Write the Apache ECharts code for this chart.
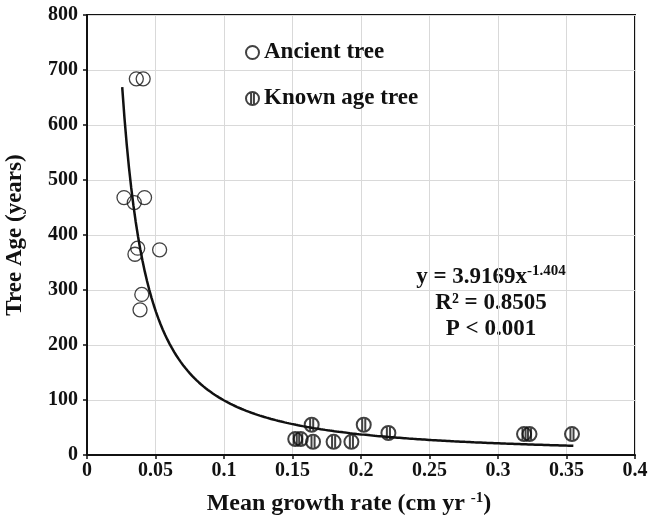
<!DOCTYPE html>
<html>
<head>
<meta charset="utf-8">
<script src="https://cdn.jsdelivr.net/npm/echarts@6/dist/echarts.min.js"></script>
<style>
html, body { margin: 0; padding: 0; background: #fff; }
#container { width: 648px; height: 516px; }
</style>
</head>
<body>
<div id="container"></div>
<script>
// ancient trees (open circles)
var ancientRate = [0.036, 0.041, 0.027, 0.0345, 0.042, 0.037, 0.035, 0.053, 0.040, 0.0387];
var ancientAge = [684, 684, 468, 459, 468, 376, 365, 373, 292, 264];
// known age trees
var knownRate = [0.152, 0.156, 0.164, 0.165, 0.180, 0.193, 0.202, 0.220, 0.319, 0.323, 0.354];
var knownAge = [29, 29, 55, 24, 24, 24, 55, 40, 38, 38, 38];
// power fit shown on the chart: y = 3.9169 x^-1.404
var fitA = 3.9169;
var fitB = -1.404;
var fitRange = [0.0257, 0.355];

var FONT = "'Liberation Serif', 'Times New Roman', serif";
var knownSymbol = 'path://M0,-10A10,10,0,1,1,0,10A10,10,0,1,1,0,-10ZM-2.2,-9.75L-2.2,9.75M2.2,-9.75L2.2,9.75';

var zip = (xs, ys) => xs.map((x, i) => [x, ys[i]]);
var fitData = [];
for (var i = 0; i <= 200; i++) {
    var x = fitRange[0] + (fitRange[1] - fitRange[0]) * i / 200;
    fitData.push([x, fitA * Math.pow(x, fitB)]);
}

var dom = document.getElementById("container");
var myChart = echarts.init(dom);
var option = {
    animation: false,
    textStyle: { fontFamily: FONT },
    grid: {
        left: 87, right: 13, top: 15, bottom: 61,
        outerBoundsMode: 'none',
        containLabel: false,
        show: true, borderColor: '#111', borderWidth: 2
    },
    legend: {
        data: ['Ancient tree', 'Known age tree'],
        orient: 'vertical',
        left: 240, top: 36,
        itemWidth: 13, itemHeight: 13,
        itemGap: 23,
        textStyle: { fontFamily: FONT, fontWeight: 'bold', fontSize: 23, color: '#111' }
    },
    xAxis: {
        type: 'value',
        min: 0, max: 0.4, interval: 0.05,
        name: 'Mean growth rate (cm yr {s|-1})',
        nameLocation: 'middle', nameGap: 36,
        nameTextStyle: {
            fontFamily: FONT, fontWeight: 'bold', fontSize: 24, color: '#111',
            padding: [0, 24, 0, 0],
            rich: { s: { fontFamily: FONT, fontWeight: 'bold', fontSize: 15, color: '#111', verticalAlign: 'top', padding: [0, 0, 10, 0] } }
        },
        axisLine: { lineStyle: { color: '#111', width: 2 } },
        axisTick: { show: true, length: 4, lineStyle: { color: '#111', width: 1.5 } },
        axisLabel: { fontFamily: FONT, fontWeight: 'bold', fontSize: 20, color: '#111', margin: 6 },
        splitLine: { show: true, lineStyle: { color: '#d9d9d9', width: 1 } }
    },
    yAxis: {
        type: 'value',
        min: 0, max: 800, interval: 100,
        name: 'Tree Age (years)',
        nameLocation: 'middle', nameGap: 60,
        nameTextStyle: { fontFamily: FONT, fontWeight: 'bold', fontSize: 23, color: '#111' },
        axisLine: { show: true, lineStyle: { color: '#111', width: 2 } },
        axisTick: { show: true, length: 4, lineStyle: { color: '#111', width: 1.5 } },
        axisLabel: { fontFamily: FONT, fontWeight: 'bold', fontSize: 20, color: '#111', margin: 9 },
        splitLine: { show: true, lineStyle: { color: '#d9d9d9', width: 1 } }
    },
    graphic: [{
        type: 'text',
        x: 491, y: 264,
        style: {
            text: '{b|y = 3.9169x}{s|-1.404}\n{b|R\u00B2 = 0.8505}\n{b|P < 0.001}',
            align: 'center',
            verticalAlign: 'top',
            fill: '#111',
            rich: {
                b: { fontFamily: FONT, fontWeight: 'bold', fontSize: 23, lineHeight: 26, fill: '#111' },
                s: { fontFamily: FONT, fontWeight: 'bold', fontSize: 15, lineHeight: 26, verticalAlign: 'top', padding: [0, 0, 8, 0], fill: '#111' }
            }
        }
    }],
    series: [
        {
            name: 'Fit',
            type: 'line',
            data: fitData,
            showSymbol: false,
            smooth: false,
            lineStyle: { color: '#111', width: 2.5 },
            z: 1
        },
        {
            name: 'Ancient tree',
            type: 'scatter',
            data: zip(ancientRate, ancientAge),
            symbol: 'circle',
            symbolSize: 14,
            itemStyle: { color: 'rgba(255,255,255,0)', borderColor: '#111', borderWidth: 1.3 },
            z: 3
        },
        {
            name: 'Known age tree',
            type: 'scatter',
            data: zip(knownRate, knownAge),
            symbol: knownSymbol,
            symbolSize: 14,
            itemStyle: { color: 'rgba(255,255,255,0)', borderColor: '#111', borderWidth: 2 },
            z: 3
        }
    ]
};
myChart.setOption(option, true);
</script>
</body>
</html>
